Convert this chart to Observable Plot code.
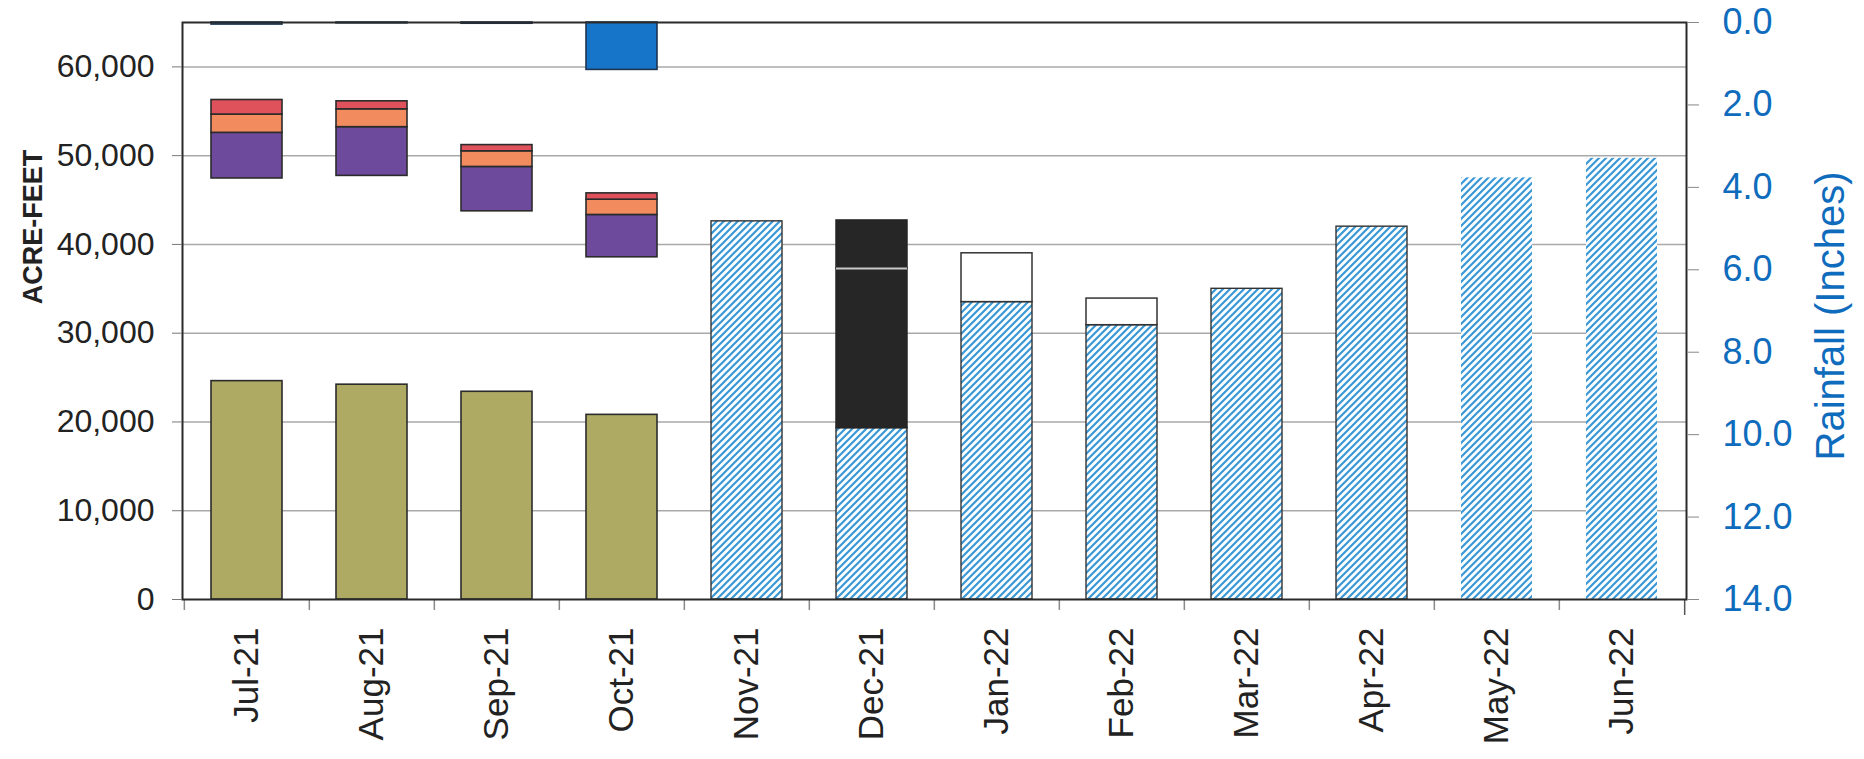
<!DOCTYPE html>
<html>
<head>
<meta charset="utf-8">
<script src="https://cdn.jsdelivr.net/npm/d3@7"></script>
<script src="https://cdn.jsdelivr.net/npm/@observablehq/plot@0.6"></script>
<style>
  body { margin: 0; background: #fff; }
  #chart svg { font-family: "Liberation Sans", Arial, sans-serif; }
</style>
</head>
<body>
<div id="chart"></div>
<script>
// ---------- data ----------
const months = ["Jul-21","Aug-21","Sep-21","Oct-21","Nov-21","Dec-21","Jan-22","Feb-22","Mar-22","Apr-22","May-22","Jun-22"];

// actual months (Jul-Oct)
const actualMonths = ["Jul-21","Aug-21","Sep-21","Oct-21"];
const greenVals   = [24600, 24200, 23400, 20800];     // acre-feet
const floatBase   = [47430, 47720, 43730, 38550];     // bottom of floating stack
const purpleVals  = [5140, 5490, 5000, 4770];
const orangeVals  = [2060, 2010, 1760, 1720];
const redVals     = [1640, 900, 700, 710];
const rainVals    = [0.05, 0.02, 0.03, 1.15];         // inches

// projected months (Nov-Jun), hatched
const projMonths  = ["Nov-21","Dec-21","Jan-22","Feb-22","Mar-22","Apr-22","May-22","Jun-22"];
const projVals    = [42600, 19300, 33500, 30900, 35000, 42000, 47500, 49700];
const projOutlined = [true, true, true, true, true, true, false, false];

// upper segments above hatched bars
const segMonths = ["Dec-21","Dec-21","Jan-22","Feb-22"];
const segLow    = [19300, 37300, 33500, 30900];
const segHigh   = [37300, 42700, 39000, 33900];
const segKind   = ["dark","dark","open","open"];

const yTicks    = [0, 10000, 20000, 30000, 40000, 50000, 60000];
const rainTicks = [0, 2, 4, 6, 8, 10, 12, 14];

// ---------- layout ----------
const W = 1864, H = 759;
const mL = 182, mR = 178, mT = 22, mB = 160;
const yMax = 65000, rainMax = 14;
const step = (W - mL - mR) / months.length;
const toAF = r => yMax - r * yMax / rainMax;   // rainfall (reversed right axis) -> left units

const greenRows = actualMonths.map((m, i) => ({month: m, value: greenVals[i]}));
const floatRows = [];
actualMonths.forEach((m, i) => {
  let b = floatBase[i];
  [["purple", purpleVals[i]], ["orange", orangeVals[i]], ["red", redVals[i]]].forEach(([k, v]) => {
    floatRows.push({month: m, key: k, y1: b, y2: b + v});
    b += v;
  });
});
const rainRows = actualMonths.map((m, i) => ({month: m, r: rainVals[i]}));
const projRows = projMonths.map((m, i) => ({month: m, value: projVals[i], outlined: projOutlined[i]}));
const segRows = segMonths.map((m, i) => ({month: m, y1: segLow[i], y2: segHigh[i], kind: segKind[i]}));
const darkSeps = segRows.filter(d => d.kind === "dark").slice(1);

const floatColor = {purple: "#6d4a9c", orange: "#f28b5e", red: "#e0525b"};

const chart = Plot.plot({
  width: W, height: H,
  marginLeft: mL, marginRight: mR, marginTop: mT, marginBottom: mB,
  style: {fontFamily: "Liberation Sans, Arial, sans-serif", color: "#222", background: "#fff"},
  x: {domain: months, paddingInner: 0.433, paddingOuter: 0.2165},
  y: {domain: [0, yMax]},
  marks: [
    Plot.gridY(yTicks.filter(d => d > 0), {stroke: "#a9a9a9", strokeOpacity: 1, strokeWidth: 1.5}),
    Plot.barY(greenRows, {x: "month", y: "value", fill: "#aeaa64", stroke: "#2b2b2b", strokeWidth: 1.6}),
    Plot.barY(floatRows, {x: "month", y1: "y1", y2: "y2", fill: d => floatColor[d.key], stroke: "#2b2b2b", strokeWidth: 1.6}),
    Plot.barY(rainRows, {x: "month", y1: () => yMax, y2: d => toAF(d.r), fill: "#1675c8", stroke: "#1d3550", strokeWidth: 1.6}),
    Plot.barY(projRows, {x: "month", y: "value", fill: "url(#hatch)", stroke: d => d.outlined ? "#333" : "none", strokeWidth: 1.4}),
    Plot.barY(segRows, {x: "month", y1: "y1", y2: "y2", fill: d => d.kind === "dark" ? "#262626" : "#fff", stroke: d => d.kind === "dark" ? "#262626" : "#333", strokeWidth: 1.5}),
    // thin light separation between stacked dark segments
    Plot.tickY(darkSeps, {x: "month", y: "y1", stroke: "#c8c8c8", strokeWidth: 2}),
    // band-boundary tick marks under the category axis
    Plot.ruleX(months, {x: d => d, y1: 0, y2: 0, insetBottom: -11, dx: -step / 2, stroke: "#8a8a8a", strokeWidth: 1.5}),
    Plot.ruleX([months[months.length - 1]], {x: d => d, y1: 0, y2: 0, insetBottom: -16, dx: step / 2, stroke: "#555", strokeWidth: 1.5}),
    Plot.frame({stroke: "#2a2a2a", strokeWidth: 2}),
    Plot.axisY(yTicks, {anchor: "left", tickFormat: d3.format(","), fontSize: 32, tickSize: 10, tickPadding: 18, label: null, stroke: "#777"}),
    Plot.axisY(rainTicks.map(toAF), {anchor: "right", tickFormat: v => ((yMax - v) / yMax * rainMax).toFixed(1), fontSize: 36, tickSize: 12, tickPadding: 24, label: null, color: "#0f6cbd", stroke: "#888"}),
    Plot.axisX({tickSize: 0, tickRotate: -90, tickPadding: 28, fontSize: 35, label: null})
  ]
});

// hatch pattern definition
const svg = d3.select(chart);
svg.insert("defs", ":first-child").html(
  '<pattern id="hatch" patternUnits="userSpaceOnUse" width="7" height="7">' +
  '<rect width="7" height="7" fill="#fff"/>' +
  '<path d="M-1.75,1.75 l3.5,-3.5 M0,7 l7,-7 M5.25,8.75 l3.5,-3.5" stroke="#3b98d6" stroke-width="2.2"/>' +
  '</pattern>'
);

// axis titles
svg.append("text")
  .attr("transform", "translate(42,227) rotate(-90)")
  .attr("text-anchor", "middle")
  .attr("font-size", 27).attr("font-weight", "bold").attr("fill", "#222")
  .text("ACRE-FEET");
svg.append("text")
  .attr("transform", "translate(1844,316) rotate(-90)")
  .attr("text-anchor", "middle")
  .attr("font-size", 40).attr("fill", "#0f6cbd")
  .text("Rainfall (Inches)");

document.getElementById("chart").appendChild(chart);
</script>
</body>
</html>
